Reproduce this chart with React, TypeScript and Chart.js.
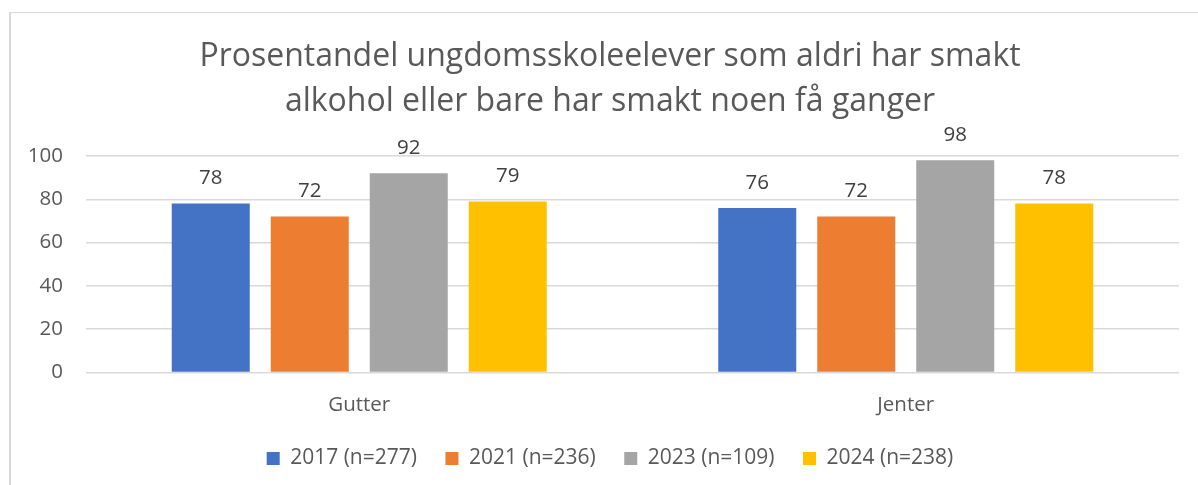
import React, { useEffect, useRef } from "react";
import { Chart, registerables } from "chart.js";

Chart.register(...registerables);

const categories = ["Gutter", "Jenter"];
const seriesLabels = ["2017 (n=277)", "2021 (n=236)", "2023 (n=109)", "2024 (n=238)"];
const values2017 = [78, 76];
const values2021 = [72, 72];
const values2023 = [92, 98];
const values2024 = [79, 78];
const seriesColors = ["#4472C4", "#ED7D31", "#A5A5A5", "#FFC000"];
const titleLines = [
  "Prosentandel ungdomsskoleelever som aldri har smakt",
  "alkohol eller bare har smakt noen få ganger",
];
const yMin = 0;
const yMax = 100;
const yStep = 20;

const FONT = "'Open Sans', Lato, sans-serif";
const SMALL = 20.5;
const LEGEND = 21;

const dataLabels = {
  id: "dataLabels",
  afterDatasetsDraw(chart: any) {
    const ctx = chart.ctx;
    ctx.save();
    ctx.font = `${SMALL}px ${FONT}`;
    ctx.fillStyle = "#404040";
    ctx.textAlign = "center";
    ctx.textBaseline = "middle";
    chart.data.datasets.forEach((ds: any, i: number) => {
      const meta = chart.getDatasetMeta(i);
      meta.data.forEach((bar: any, j: number) => {
        ctx.fillText(String(ds.data[j]), bar.x, bar.y - 25);
      });
    });
    ctx.restore();
  },
};

export default function App() {
  const canvasRef = useRef<HTMLCanvasElement | null>(null);

  useEffect(() => {
    if (!canvasRef.current) return;
    const seriesValues = [values2017, values2021, values2023, values2024];
    const chart = new Chart(canvasRef.current, {
      type: "bar",
      data: {
        labels: categories,
        datasets: seriesLabels.map((label, i) => ({
          label,
          data: seriesValues[i],
          backgroundColor: seriesColors[i],
          borderWidth: 0,
          categoryPercentage: 0.7246,
          barPercentage: 0.788,
        })),
      },
      options: {
        responsive: false,
        animation: false,
        devicePixelRatio: 1,
        layout: { padding: { top: 12, left: 22, right: 0, bottom: 6 } },
        plugins: {
          title: {
            display: true,
            text: titleLines,
            color: "#595959",
            font: { family: FONT, size: 32, weight: "normal", lineHeight: 1.406 },
            padding: { top: 22, bottom: 32 },
          },
          legend: {
            position: "bottom",
            labels: {
              boxWidth: 13,
              boxHeight: 13,
              padding: 28.5,
              color: "#595959",
              font: { family: FONT, size: LEGEND },
            },
          },
          tooltip: { enabled: false },
        },
        scales: {
          x: {
            grid: { display: false, drawTicks: false },
            border: { display: false },
            ticks: { color: "#595959", font: { family: FONT, size: SMALL }, padding: 20 },
            afterFit: (scale: any) => {
              scale.height = 47;
            },
          },
          y: {
            min: yMin,
            max: yMax,
            grid: { color: "#d9d9d9", lineWidth: 1.5, drawTicks: false },
            border: { display: false },
            ticks: {
              stepSize: yStep,
              color: "#595959",
              font: { family: FONT, size: SMALL },
              padding: 23,
            },
            afterFit: (scale: any) => {
              scale.width = 64;
            },
          },
          y2: {
            type: "linear",
            position: "right",
            display: true,
            grid: { display: false, drawTicks: false },
            border: { display: false },
            ticks: { display: false },
            afterFit: (scale: any) => {
              scale.width = 19;
            },
          },
        },
      },
      plugins: [dataLabels],
    });
    return () => chart.destroy();
  }, []);

  return (
    <div
      style={{
        position: "fixed",
        top: 0,
        left: 0,
        width: 1198,
        height: 485,
        background: "#ffffff",
        overflow: "hidden",
      }}
    >
      <div
        style={{
          position: "absolute",
          left: 9,
          top: 12,
          width: 1200,
          height: 480,
          borderTop: "1px solid #d9d9d9",
          borderLeft: "2px solid #d9d9d9",
        }}
      />
      <canvas
        ref={canvasRef}
        width={1198}
        height={485}
        style={{ position: "absolute", top: 0, left: 0, width: 1198, height: 485, display: "block" }}
      />
    </div>
  );
}
